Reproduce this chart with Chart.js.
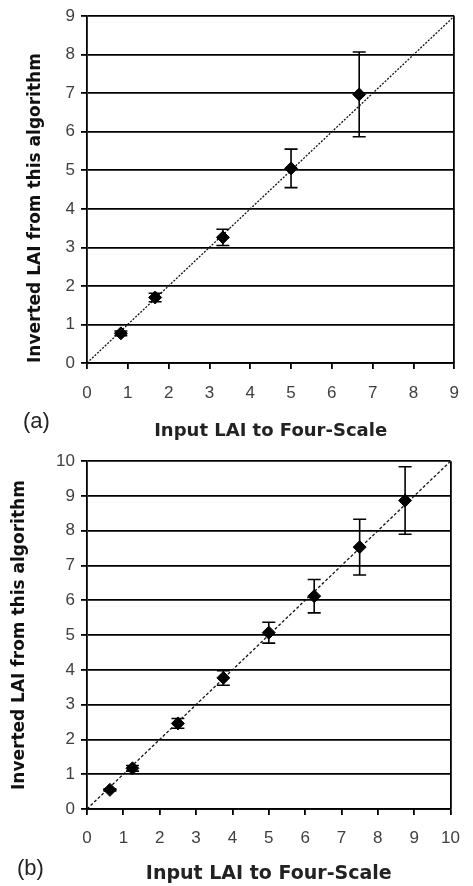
<!DOCTYPE html>
<html><head><meta charset="utf-8">
<script src="https://cdn.jsdelivr.net/npm/chart.js@4"></script>
<style>
html,body{margin:0;padding:0;background:#fff;width:473px;height:886px;overflow:hidden}
.wrap{position:absolute;left:0;width:473px}
.lbl{position:absolute;font-family:"Liberation Sans",Arial,sans-serif;font-size:22px;color:#222;line-height:26px}
</style></head><body>
<div class="wrap" style="top:0;height:445px"><canvas id="ca"></canvas></div>
<div class="wrap" style="top:445px;height:441px"><canvas id="cb"></canvas></div>
<div class="lbl" style="left:23px;top:408px">(a)</div>
<div class="lbl" style="left:17px;top:855px">(b)</div>
<script>
// ---- Data (a) ----
const inputA = [0.83, 1.67, 3.33, 5.0, 6.67];
const invertedA = [0.77, 1.70, 3.26, 5.05, 6.97];
const errA = [0.06, 0.11, 0.21, 0.50, 1.10];
const ticksA = [0,1,2,3,4,5,6,7,8,9];
// ---- Data (b) ----
const inputB = [0.63, 1.25, 2.5, 3.75, 5.0, 6.25, 7.5, 8.75];
const invertedB = [0.55, 1.17, 2.46, 3.77, 5.07, 6.12, 7.53, 8.87];
const errB = [0.03, 0.08, 0.14, 0.21, 0.30, 0.48, 0.80, 0.97];
const ticksB = [0,1,2,3,4,5,6,7,8,9,10];

const xTitle = 'Input LAI to Four-Scale';
const yTitle = 'Inverted LAI from this algorithm';

const errorBars = {
  id: 'errorBars',
  beforeDatasetsDraw(chart, args, opts) {
    const ds = chart.data.datasets[0];
    const xs = chart.scales.x, ys = chart.scales.y;
    const ctx = chart.ctx;
    ctx.save();
    ctx.strokeStyle = '#000';
    ctx.lineWidth = 1.6;
    ds.data.forEach((p, i) => {
      const e = ds.errors[i];
      const px = xs.getPixelForValue(p.x);
      const y1 = ys.getPixelForValue(p.y + e), y2 = ys.getPixelForValue(p.y - e);
      const c = opts.cap;
      ctx.beginPath();
      ctx.moveTo(px, y1); ctx.lineTo(px, y2);
      ctx.moveTo(px - c, y1); ctx.lineTo(px + c, y1);
      ctx.moveTo(px - c, y2); ctx.lineTo(px + c, y2);
      ctx.stroke();
    });
    ctx.restore();
  }
};

function makeChart(id, xv, yv, ev, ticks, cfg) {
  const max = ticks[ticks.length - 1];
  const pts = xv.map((x, i) => ({x: x, y: yv[i]}));
  return new Chart(document.getElementById(id), {
    type: 'scatter',
    data: {
      datasets: [
        {data: pts, errors: ev, pointStyle: 'rectRot', pointRadius: 6.5, pointHoverRadius: 6.5,
         backgroundColor: '#000', borderColor: '#000', borderWidth: 1, showLine: false},
        {data: [{x: ticks[0], y: ticks[0]}, {x: max, y: max}], showLine: true, pointRadius: 0,
         borderColor: '#111', borderWidth: 1.3, borderDash: cfg.dash, fill: false}
      ]
    },
    options: {
      responsive: true, maintainAspectRatio: false, animation: false,
      layout: {padding: {left: 0, right: cfg.padRight, top: cfg.padTop, bottom: 0}},
      plugins: {legend: {display: false}, tooltip: {enabled: false}, errorBars: {cap: 6.5}},
      scales: {
        x: {
          type: 'linear', min: ticks[0], max: max,
          afterBuildTicks: s => { s.ticks = ticks.map(v => ({value: v})); },
          afterFit: s => { s.height = cfg.xHeight; },
          ticks: {color: '#404040', font: {family: '"Liberation Sans", Arial', size: 17}, padding: cfg.xTickPad, maxRotation: 0},
          grid: {color: c => (c.tick && c.tick.value === max) ? '#000' : 'rgba(0,0,0,0)',
                 tickColor: '#000', tickLength: 6, lineWidth: 1.8},
          border: {color: '#000', width: 1.8},
          title: {display: true, text: xTitle, color: '#222',
                  font: {family: '"DejaVu Sans"', weight: 'bold', size: cfg.xTitleSize},
                  padding: {top: 0, bottom: cfg.xTitlePad}}
        },
        y: {
          type: 'linear', min: ticks[0], max: max,
          afterBuildTicks: s => { s.ticks = ticks.map(v => ({value: v})); },
          afterFit: s => { s.width = 87; },
          ticks: {color: '#404040', font: {family: '"Liberation Sans", Arial', size: 17}, padding: 6},
          grid: {color: '#000', tickColor: '#000', tickLength: 6, lineWidth: 1.8},
          border: {color: '#000', width: 1.8},
          title: {display: true, text: yTitle, color: '#111', align: cfg.yAlign,
                  font: {family: '"DejaVu Sans"', weight: 'bold', size: 17},
                  padding: {top: cfg.yTitlePad, bottom: 0}}
        }
      }
    },
    plugins: [errorBars]
  });
}

makeChart('ca', inputA, invertedA, errA, ticksA,
  {dash: [2, 1.5], padRight: 5, padTop: 14, xHeight: 82, xTickPad: 14, xTitleSize: 18, xTitlePad: 3, yAlign: 'start', yTitlePad: 25});
makeChart('cb', inputB, invertedB, errB, ticksB,
  {dash: [3, 2], padRight: 11, padTop: 16, xHeight: 77, xTickPad: 13, xTitleSize: 19, xTitlePad: 1, yAlign: 'center', yTitlePad: 9});
</script>
</body></html>
